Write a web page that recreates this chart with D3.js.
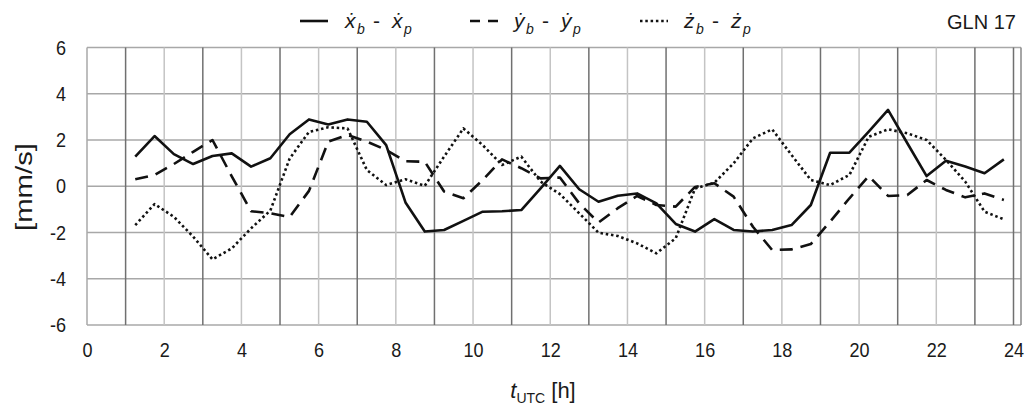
<!DOCTYPE html>
<html>
<head>
<meta charset="utf-8">
<script src="https://cdn.jsdelivr.net/npm/d3@7"></script>
<style>
  html, body { margin: 0; padding: 0; background: #fff; }
  svg { display: block; }
  text { font-family: "Liberation Sans", Arial, sans-serif; fill: #1a1a1a; }
</style>
</head>
<body>
<svg id="chart" width="1025" height="410"></svg>
<script>
// ---- data ----
const hours = [1.25, 1.75, 2.25, 2.75, 3.25, 3.75, 4.25, 4.75, 5.25, 5.75,
  6.25, 6.75, 7.25, 7.75, 8.25, 8.75, 9.25, 9.75, 10.25, 10.75,
  11.25, 11.75, 12.25, 12.75, 13.25, 13.75, 14.25, 14.75, 15.25, 15.75,
  16.25, 16.75, 17.25, 17.75, 18.25, 18.75, 19.25, 19.75, 20.25, 20.75,
  21.25, 21.75, 22.25, 22.75, 23.25, 23.75];

const dX = [1.28, 2.17, 1.39, 0.96, 1.31, 1.42, 0.85, 1.21, 2.25, 2.89,
  2.67, 2.89, 2.79, 1.78, -0.70, -1.96, -1.89, -1.50, -1.10, -1.08,
  -1.03, -0.09, 0.88, -0.13, -0.67, -0.41, -0.31, -0.74, -1.63, -1.96,
  -1.42, -1.89, -1.96, -1.89, -1.68, -0.81, 1.45, 1.45, 2.36, 3.30,
  1.86, 0.44, 1.10, 0.85, 0.56, 1.16];

const dY = [0.30, 0.49, 0.96, 1.49, 2.00, 0.43, -1.08, -1.17, -1.33, -0.20,
  1.93, 2.22, 1.93, 1.57, 1.08, 1.06, -0.23, -0.52, 0.27, 1.16,
  0.78, 0.34, 0.38, -0.74, -1.57, -0.95, -0.42, -0.81, -0.88, -0.03,
  0.13, -0.45, -1.75, -2.76, -2.73, -2.50, -1.53, -0.52, 0.44, -0.42,
  -0.38, 0.27, -0.16, -0.48, -0.31, -0.59];

const dZ = [-1.68, -0.77, -1.32, -2.18, -3.16, -2.69, -1.82, -1.05, 1.20, 2.35,
  2.55, 2.50, 0.70, 0.05, 0.30, 0.02, 1.28, 2.50, 1.78, 0.92,
  1.28, 0.20, -0.34, -1.17, -2.01, -2.15, -2.47, -2.90, -2.25, -0.10,
  0.15, 0.99, 2.07, 2.46, 1.35, 0.27, 0.05, 0.49, 2.14, 2.46,
  2.29, 2.00, 1.14, 0.20, -1.10, -1.43];

const xTickValues = [0, 2, 4, 6, 8, 10, 12, 14, 16, 18, 20, 22, 24];
const yTickValues = [-6, -4, -2, 0, 2, 4, 6];
const gridHours = [1, 2, 3, 4, 5, 6, 7, 8, 9, 10, 11, 12, 13, 14, 15, 16, 17, 18, 19, 20, 21, 22, 23, 24];

// ---- layout ----
const svg = d3.select("#chart");
const plotLeft = 87, plotTop = 47.5, plotBottom = 325, plotRight24 = 1013.5, frameRight = 1021;

const x = d3.scaleLinear().domain([0, 24]).range([plotLeft, plotRight24]);
const y = d3.scaleLinear().domain([-6, 6]).range([plotBottom, plotTop]);

// horizontal grid
svg.append("g").selectAll("line").data(yTickValues).join("line")
  .attr("x1", plotLeft).attr("x2", frameRight)
  .attr("y1", d => y(d)).attr("y2", d => y(d))
  .attr("stroke", "#a8a8a8").attr("stroke-width", 1.5);

// vertical grid (odd hours darker)
svg.append("g").selectAll("line").data(gridHours).join("line")
  .attr("x1", d => x(d)).attr("x2", d => x(d))
  .attr("y1", plotTop).attr("y2", plotBottom)
  .attr("stroke", d => (d % 2 === 1 || d === 24) ? "#707070" : "#c4c4c4")
  .attr("stroke-width", 1.5);

// frame left/right
svg.append("line").attr("x1", plotLeft).attr("x2", plotLeft).attr("y1", plotTop).attr("y2", plotBottom)
  .attr("stroke", "#a8a8a8").attr("stroke-width", 1.5);
svg.append("line").attr("x1", frameRight).attr("x2", frameRight).attr("y1", plotTop).attr("y2", plotBottom)
  .attr("stroke", "#888").attr("stroke-width", 1.5);

// axes labels via d3 axes
const xAxis = d3.axisBottom(x).tickValues(xTickValues).tickSize(0).tickPadding(0).tickFormat(d => String(d));
const gx = svg.append("g").attr("transform", `translate(0,${plotBottom + 17})`).call(xAxis);
gx.select(".domain").remove();
gx.selectAll("text").attr("font-size", 21).attr("font-family", "Liberation Sans, Arial, sans-serif")
  .attr("fill", "#1a1a1a").attr("transform", "scale(0.86,1)");

const yAxis = d3.axisLeft(y).tickValues(yTickValues).tickSize(0).tickPadding(0).tickFormat(d => String(d));
const gy = svg.append("g").attr("transform", `translate(${plotLeft - 21},0)`).call(yAxis);
gy.select(".domain").remove();
gy.selectAll("text").attr("font-size", 21).attr("font-family", "Liberation Sans, Arial, sans-serif")
  .attr("fill", "#1a1a1a").attr("transform", "scale(0.86,1)");

// series
const line = d3.line().x((d, i) => x(hours[i])).y(d => y(d));
const series = [
  { values: dX, dash: null, w: 2.6 },
  { values: dY, dash: "13,8", w: 2.6 },
  { values: dZ, dash: "2.5,2.8", w: 2.6 }
];
svg.append("g").selectAll("path").data(series).join("path")
  .attr("d", d => line(d.values))
  .attr("fill", "none")
  .attr("stroke", "#111")
  .attr("stroke-width", d => d.w)
  .attr("stroke-dasharray", d => d.dash)
  .attr("stroke-linejoin", "round");

// axis titles
svg.append("text").attr("transform", "translate(32,187) rotate(-90)")
  .attr("text-anchor", "middle").attr("font-size", 24)
  .attr("textLength", 88).attr("lengthAdjust", "spacingAndGlyphs").text("[mm/s]");

const xt = svg.append("text").attr("x", 543).attr("y", 398).attr("text-anchor", "middle").attr("font-size", 22);
xt.append("tspan").attr("font-style", "italic").text("t");
xt.append("tspan").attr("font-size", 14).attr("dy", 5).text("UTC");
xt.append("tspan").attr("dy", -5).text(" [h]");

// legend
const legendItems = [
  { base: "\u1E8B", dash: null, x0: 300, tx: 345 },
  { base: "\u1E8F", dash: "10,8", x0: 470, tx: 514 },
  { base: "\u017C", dash: "2.5,2.8", x0: 640, tx: 684 }
];
const lg = svg.append("g");
legendItems.forEach(it => {
  lg.append("line").attr("x1", it.x0).attr("x2", it.x0 + 28).attr("y1", 21).attr("y2", 21)
    .attr("stroke", "#111").attr("stroke-width", 2.6)
    .attr("stroke-dasharray", it.dash);
  const t = lg.append("text").attr("y", 28).attr("font-size", 21).attr("font-style", "italic").attr("fill", "#333");
  t.append("tspan").attr("x", it.tx).text(it.base);
  t.append("tspan").attr("x", it.tx + 12).attr("font-size", 14).attr("dy", 6).text("b");
  t.append("tspan").attr("x", it.tx + 28).attr("dy", -6).attr("font-style", "normal").text("-");
  t.append("tspan").attr("x", it.tx + 47).text(it.base);
  t.append("tspan").attr("x", it.tx + 59).attr("font-size", 14).attr("dy", 6).text("p");
});

svg.append("text").attr("x", 1016).attr("y", 29).attr("text-anchor", "end").attr("font-size", 20).text("GLN 17");
</script>
</body>
</html>
